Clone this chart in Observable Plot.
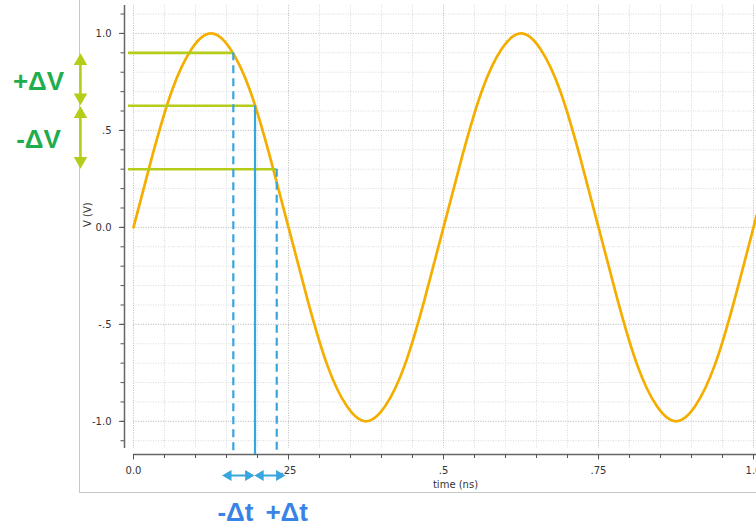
<!DOCTYPE html>
<html>
<head>
<meta charset="utf-8">
<script src="https://cdn.jsdelivr.net/npm/d3@7"></script>
<script src="https://cdn.jsdelivr.net/npm/@observablehq/plot@0.6"></script>
<style>
  html, body { margin: 0; padding: 0; background: #fff; }
  #chart { width: 756px; height: 526px; overflow: hidden; }
</style>
</head>
<body>
<div id="chart"></div>
<script>
// ---- data ----
const timeNs = [0, 0.03125, 0.0625, 0.09375, 0.125, 0.15625, 0.1875, 0.21875, 0.25, 0.28125, 0.3125, 0.34375, 0.375, 0.40625, 0.4375, 0.46875,
  0.5, 0.53125, 0.5625, 0.59375, 0.625, 0.65625, 0.6875, 0.71875, 0.75, 0.78125, 0.8125, 0.84375, 0.875, 0.90625, 0.9375, 0.96875, 1.0, 1.005];
const voltage = [0, 0.38, 0.71, 0.92, 1, 0.92, 0.71, 0.38, 0, -0.38, -0.71, -0.92, -1, -0.92, -0.71, -0.38,
  0, 0.38, 0.71, 0.92, 1, 0.92, 0.71, 0.38, 0, -0.38, -0.71, -0.92, -1, -0.92, -0.71, -0.38, 0, 0.06];

const levelV = [0.9, 0.627, 0.3];          // green horizontal levels
const crossT = [0.161, 0.196, 0.231];      // blue vertical markers
const crossDashed = [true, false, true];
const dtArrowEnds = [0.143, 0.195, 0.245]; // Δt arrow ends
const dvLabels = ["+ΔV", "-ΔV"];
const dtLabels = ["-Δt", "+Δt"];

const xMajor = [0, 0.25, 0.5, 0.75, 1.0];
const xMajorLabels = ["0.0", ".25", ".5", ".75", "1.0"];
const yMajor = [-1, -0.5, 0, 0.5, 1];
const yMajorLabels = ["-1.0", "-.5", "0.0", ".5", "1.0"];
const xMinor = d3.range(0, 21).map(i => i * 0.05);
const yMinor = d3.range(-11, 12).map(i => i * 0.1);
const xTitle = "time (ns)";
const yTitle = "V (V)";

// ---- derived tables ----
const wave = timeNs.map((t, i) => ({t, v: voltage[i]}));
const crosses = crossT.map((t, i) => ({t, v: levelV[i], dashed: crossDashed[i]}));
const dvSegs = dvLabels.map((label, i) => ({label, top: levelV[i], bottom: levelV[i + 1]}));
const dtSegs = dtLabels.map((label, i) => ({label, a: dtArrowEnds[i], b: dtArrowEnds[i + 1]}));
const xLab = new Map(xMajor.map((d, i) => [d, xMajorLabels[i]]));
const yLab = new Map(yMajor.map((d, i) => [d, yMajorLabels[i]]));

const yMin = -1.14, yMax = 1.144;
const orange = "#f4ae00", lime = "#b5cc18", blue = "#37a5de";
const greenText = "#1fad4e", blueText = "#3a83e6";

const chart = Plot.plot({
  width: 756,
  height: 526,
  marginLeft: 124,
  marginRight: 0,
  marginTop: 5,
  marginBottom: 72,
  style: {fontFamily: "DejaVu Sans, sans-serif", fontSize: "10px", color: "#333", background: "#fff", overflow: "visible"},
  x: {domain: [0, 1.0048], insetLeft: 9},
  y: {domain: [yMin, yMax], insetBottom: 6},
  marks: [
    // panel border (left + bottom)
    Plot.ruleX([0], {dx: -54, insetTop: -5, insetBottom: -38, stroke: "#c6c6c6", strokeWidth: 1}),
    Plot.ruleY([yMin], {dy: 44, insetLeft: -45, stroke: "#c6c6c6", strokeWidth: 1}),
    // grid
    Plot.gridX(xMinor, {stroke: "#dadada", strokeOpacity: 1, strokeDasharray: "1,1.5", insetBottom: 6}),
    Plot.gridY(yMinor, {stroke: "#dadada", strokeOpacity: 1, strokeDasharray: "1,1.5", insetLeft: 9}),
    Plot.gridX(xMajor, {stroke: "#c4c4c4", strokeOpacity: 1, strokeDasharray: "1,1.5", insetBottom: 6}),
    Plot.gridY(yMajor, {stroke: "#c4c4c4", strokeOpacity: 1, strokeDasharray: "1,1.5", insetLeft: 9}),
    // axis lines
    Plot.ruleX([0], {dx: -9, insetBottom: 6, stroke: "#666", strokeWidth: 1.5}),
    Plot.ruleY([yMin], {dy: 6, insetLeft: 9, stroke: "#666", strokeWidth: 1.5}),
    // ticks
    Plot.axisY(yMinor, {tickSize: 3.5, tickFormat: () => "", stroke: "#555", label: null}),
    Plot.axisY(yMajor, {tickSize: 5, tickPadding: 8, tickFormat: d => yLab.get(d), stroke: "#555", fill: "#333", label: null}),
    Plot.axisX(xMinor, {tickSize: 4, tickFormat: () => "", stroke: "#555", label: null}),
    Plot.axisX(xMajor, {tickSize: 5.5, tickPadding: 7, tickFormat: d => xLab.get(d), stroke: "#555", fill: "#333", label: null}),
    // axis titles
    Plot.text([xTitle], {frameAnchor: "bottom", dx: 15, dy: 33, fill: "#333", fontSize: 10}),
    Plot.text([yTitle], {frameAnchor: "left", dx: -37, dy: -3, rotate: -90, fill: "#333", fontSize: 10}),
    // waveform
    Plot.line(wave, {x: "t", y: "v", stroke: orange, strokeWidth: 2.7, curve: "natural"}),
    // green level lines
    Plot.ruleY(crosses, {y: "v", x1: () => 0, x2: "t", insetLeft: -5, stroke: lime, strokeWidth: 2.6}),
    // blue time markers
    Plot.ruleX(crosses.filter(d => d.dashed), {x: "t", y1: "v", y2: () => yMin, insetBottom: -6, stroke: blue, strokeWidth: 2.2, strokeDasharray: "8,5"}),
    Plot.ruleX(crosses.filter(d => !d.dashed), {x: "t", y1: "v", y2: () => yMin, insetBottom: -6, stroke: blue, strokeWidth: 2.2}),
    // ΔV arrows
    Plot.ruleX(dvSegs, {x: () => 0, y1: "top", y2: "bottom", dx: -53, insetTop: 6, insetBottom: 6, stroke: lime, strokeWidth: 2.4}),
    Plot.dot(dvSegs, {x: () => 0, y: "top", dx: -53, dy: 8.3, symbol: "triangle", r: 5, fill: lime, stroke: null}),
    Plot.dot(dvSegs, {x: () => 0, y: "bottom", dx: -53, dy: -8.3, rotate: 180, symbol: "triangle", r: 5, fill: lime, stroke: null}),
    Plot.text(dvSegs, {x: () => 0, y: d => (d.top + d.bottom) / 2, text: "label", dx: -95, dy: 2, fill: greenText, fontSize: 26, fontWeight: "bold", fontFamily: "Liberation Sans, Arial, sans-serif"}),
    // Δt arrows
    Plot.ruleY(dtSegs, {y: () => yMin, x1: "a", x2: "b", dy: 27, insetLeft: 4, insetRight: 4, stroke: blue, strokeWidth: 2}),
    Plot.dot(dtSegs, {x: "a", y: () => yMin, dx: 6.2, dy: 27, rotate: -90, symbol: "triangle", r: 4, fill: blue, stroke: null}),
    Plot.dot(dtSegs, {x: "b", y: () => yMin, dx: -6.2, dy: 27, rotate: 90, symbol: "triangle", r: 4, fill: blue, stroke: null}),
    Plot.text(dtSegs.slice(0, 1), {x: "b", y: () => yMin, text: "label", textAnchor: "end", dx: -1, dy: 64, fill: blueText, fontSize: 26, fontWeight: "bold", fontFamily: "Liberation Sans, Arial, sans-serif"}),
    Plot.text(dtSegs.slice(1), {x: "a", y: () => yMin, text: "label", textAnchor: "start", dx: 11, dy: 64, fill: blueText, fontSize: 26, fontWeight: "bold", fontFamily: "Liberation Sans, Arial, sans-serif"})
  ]
});
document.getElementById("chart").appendChild(chart);
</script>
</body>
</html>
